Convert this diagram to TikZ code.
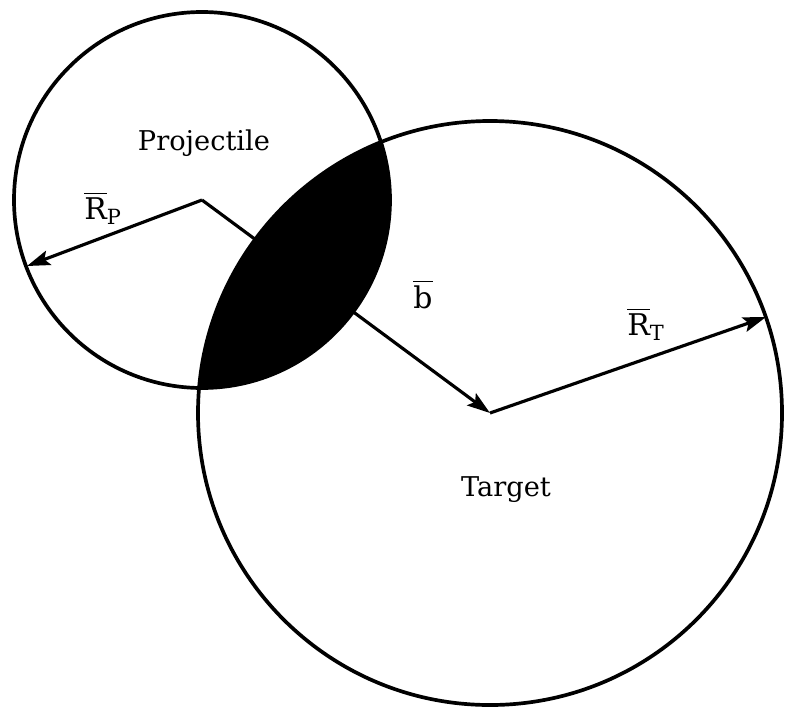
\documentclass[tikz,border=0pt]{standalone}
\usepackage{amsmath,amssymb}
\usepackage{fontspec}
\setmainfont{DejaVu Serif}
\usepackage{tikz}
\usetikzlibrary{arrows.meta}

\begin{document}
\begin{tikzpicture}[
    x=0.02cm, y=-0.02cm,
    font=\fontsize{15.5}{18}\selectfont,
    ring/.style={draw, line width=2.1pt},
    vec/.style={-{Stealth[length=4.6mm,width=3mm,inset=0.9mm]}, line width=1.8pt},
    lab/.style={inner sep=1pt, font=\fontsize{17}{20}\selectfont},
  ]
  \useasboundingbox (0,0) rectangle (786,710);

  % Centros y radios (px)
  \def\rp{188}
  \def\rt{292}
  \coordinate (pc) at (202,200);
  \coordinate (tc) at (490,413);

  % ======================= SOLAPAMIENTO ======================
  \begin{scope}
    \clip (pc) circle[radius=\rp];
    \fill (tc) circle[radius=\rt];
  \end{scope}

  % ========================= CIRCULOS ========================
  \draw[ring] (pc) circle[radius=\rp];
  \draw[ring] (tc) circle[radius=\rt];

  % ========================= VECTORES ========================
  \coordinate (pe) at (27,266);
  \coordinate (te) at (766,317);
  \draw[vec] (pc) -- (pe);
  \draw[vec] (pc) -- (tc);
  \draw[vec] (tc) -- (te);

  % ======================== ETIQUETAS ========================
  \node (proj) at (204,143) {Projectile};
  \node (targ) at (506,490) {Target};
  \node[lab] (lrp) at (103,208) {$\overline{\text{R}}_{\text{P}}$};
  \node[lab] (lb)  at (423,294) {$\overline{\text{b}}$};
  \node[lab] (lrt) at (646,324) {$\overline{\text{R}}_{\text{T}}$};
\end{tikzpicture}
\end{document}
